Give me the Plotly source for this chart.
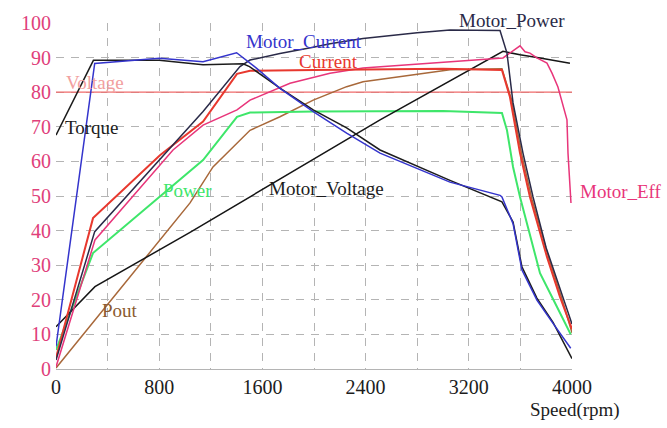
import plotly.graph_objects as go

# ---- data (speed in rpm, values in %) ----
voltage_x = [0, 4000]
voltage_y = [80, 80]

torque_x = [0, 290, 800, 1140, 1450, 1500, 1736, 1994, 2253, 2512, 3054, 3457, 3543, 3612, 3728, 3853, 4000]
torque_y = [67.6, 89.2, 89.2, 87.9, 88.2, 87.4, 81.2, 74.9, 69.7, 63.3, 54.5, 48.3, 42.5, 29.5, 20.5, 13.5, 3.0]

mcurrent_x = [0, 300, 800, 961, 1140, 1400, 1556, 1736, 1994, 2253, 2512, 3054, 3442, 3457, 3543, 3612, 3728, 3853, 3990]
mcurrent_y = [6.5, 88.3, 89.8, 89.3, 88.8, 91.4, 86.9, 81.1, 74.4, 68.2, 62.4, 54.0, 50.2, 49.7, 42.0, 28.6, 19.9, 13.2, 6.0]

mpower_x = [0, 300, 1140, 1426, 1504, 1736, 1994, 2124, 2380, 2800, 3054, 3442, 3496, 3543, 3620, 3698, 3800, 3900, 4000]
mpower_y = [2.6, 39.7, 74.4, 87.4, 89.3, 91.2, 93.0, 94.0, 95.5, 97.2, 98.0, 97.8, 91.3, 76.9, 62.4, 49.7, 35.0, 24.0, 13.0]

current_x = [0, 287, 806, 1140, 1403, 1504, 2000, 2500, 3000, 3457, 3519, 3597, 3674, 3806, 3907, 4000]
current_y = [3.2, 43.6, 61.8, 71.5, 85.3, 86.2, 86.4, 86.5, 86.8, 86.4, 78.6, 62.4, 49.7, 32.4, 20.8, 11.5]

pout_x = [0, 1039, 1217, 1372, 1504, 1736, 1994, 2253, 2380, 3054, 3457, 3530, 3610, 3690, 3820, 3920, 4000]
pout_y = [0.3, 48.0, 58.4, 64.2, 69.0, 72.9, 77.7, 81.6, 83.0, 86.5, 86.8, 78.0, 62.0, 49.0, 32.0, 20.5, 10.5]

power_x = [0, 287, 1140, 1403, 1504, 2000, 3000, 3457, 3496, 3543, 3597, 3651, 3752, 3884, 3990]
power_y = [5.5, 33.5, 60.4, 72.9, 74.1, 74.4, 74.6, 74.0, 69.0, 58.4, 49.7, 42.2, 27.7, 17.9, 10.0]

meff_x = [0, 302, 907, 1140, 1403, 1504, 1814, 2124, 2380, 3054, 3465, 3597, 3636, 3674, 3728, 3806, 3845, 3891, 3961, 3969, 3984, 3992]
meff_y = [0.6, 37.3, 63.3, 70.5, 74.9, 77.7, 82.6, 85.5, 87.0, 88.7, 89.9, 93.4, 91.7, 91.3, 89.9, 88.4, 85.5, 81.5, 72.0, 62.4, 50.9, 48.0]

mvoltage_x = [0, 302, 1039, 2512, 3465, 3597, 3752, 3984]
mvoltage_y = [12.2, 23.8, 39.5, 72.0, 91.8, 90.8, 89.9, 88.4]

x_ticks = list(range(0, 4001, 400))
x_ticktext = [str(v) if v % 800 == 0 else "" for v in x_ticks]
y_ticks = list(range(0, 101, 10))

FONT = "Liberation Serif, Times New Roman, serif"

series = [
    ("Voltage", voltage_x, voltage_y, "#f06a6a", 1.2),
    ("Pout", pout_x, pout_y, "#a8683a", 1.5),
    ("Power", power_x, power_y, "#3ee66a", 2.0),
    ("Motor_Voltage", mvoltage_x, mvoltage_y, "#151515", 1.5),
    ("Motor_Eff", meff_x, meff_y, "#e8357a", 1.5),
    ("Current", current_x, current_y, "#e8382e", 2.0),
    ("Motor_Power", mpower_x, mpower_y, "#2a2a48", 1.5),
    ("Torque", torque_x, torque_y, "#1c1c1c", 1.5),
    ("Motor_Current", mcurrent_x, mcurrent_y, "#3434cc", 1.5),
]

fig = go.Figure()
for name, xs, ys, col, w in series:
    fig.add_trace(go.Scatter(x=xs, y=ys, mode="lines", name=name,
                             line=dict(color=col, width=w), showlegend=False))

# labels inside the plot area (data coordinates)
labels = [
    ("Motor_Current", 1922, 94.6, "#3434cc"),
    ("Current", 2109, 88.8, "#e8382e"),
    ("Voltage", 302, 82.9, "#f2a0a0"),
    ("Torque", 279, 69.9, "#1c1c1c"),
    ("Power", 1023, 51.7, "#3ee66a"),
    ("Motor_Voltage", 2093, 52.3, "#1c1c1c"),
    ("Pout", 496, 17.0, "#8a5a30"),
]
for txt, x, y, col in labels:
    fig.add_annotation(x=x, y=y, text=txt, showarrow=False, xanchor="center", yanchor="middle",
                       font=dict(family=FONT, size=19, color=col))

# labels outside the plot area (paper coordinates)
outer_labels = [
    ("Motor_Power", 0.884, 1.006, "#2a2a48"),
    ("Motor_Eff", 1.095, 0.512, "#e8357a"),
    ("Speed(rpm)", 1.006, -0.118, "#1c1c1c"),
]
for txt, x, y, col in outer_labels:
    fig.add_annotation(x=x, y=y, xref="paper", yref="paper", text=txt, showarrow=False,
                       xanchor="center", yanchor="middle",
                       font=dict(family=FONT, size=19, color=col))

fig.update_layout(
    width=667, height=428,
    margin=dict(l=56, r=95, t=23, b=59),
    paper_bgcolor="white", plot_bgcolor="white",
    font=dict(family=FONT, size=20, color="#1c1c1c"),
)
fig.update_xaxes(range=[0, 4000], tickvals=x_ticks, ticktext=x_ticktext,
                 showgrid=True, gridcolor="#b4b4b4", griddash="8px,7px", gridwidth=1,
                 showline=True, linecolor="#b4b4b4", linewidth=1, zeroline=False,
                 ticks="", tickfont=dict(family=FONT, size=20, color="#1c1c1c"))
fig.update_yaxes(range=[0, 100], tickvals=y_ticks,
                 showgrid=True, gridcolor="#b4b4b4", griddash="8px,7px", gridwidth=1,
                 showline=False, zeroline=False, ticks="",
                 ticklabelstandoff=4,
                 tickfont=dict(family=FONT, size=20, color="#e0407a"))

fig.write_html("out.html")
